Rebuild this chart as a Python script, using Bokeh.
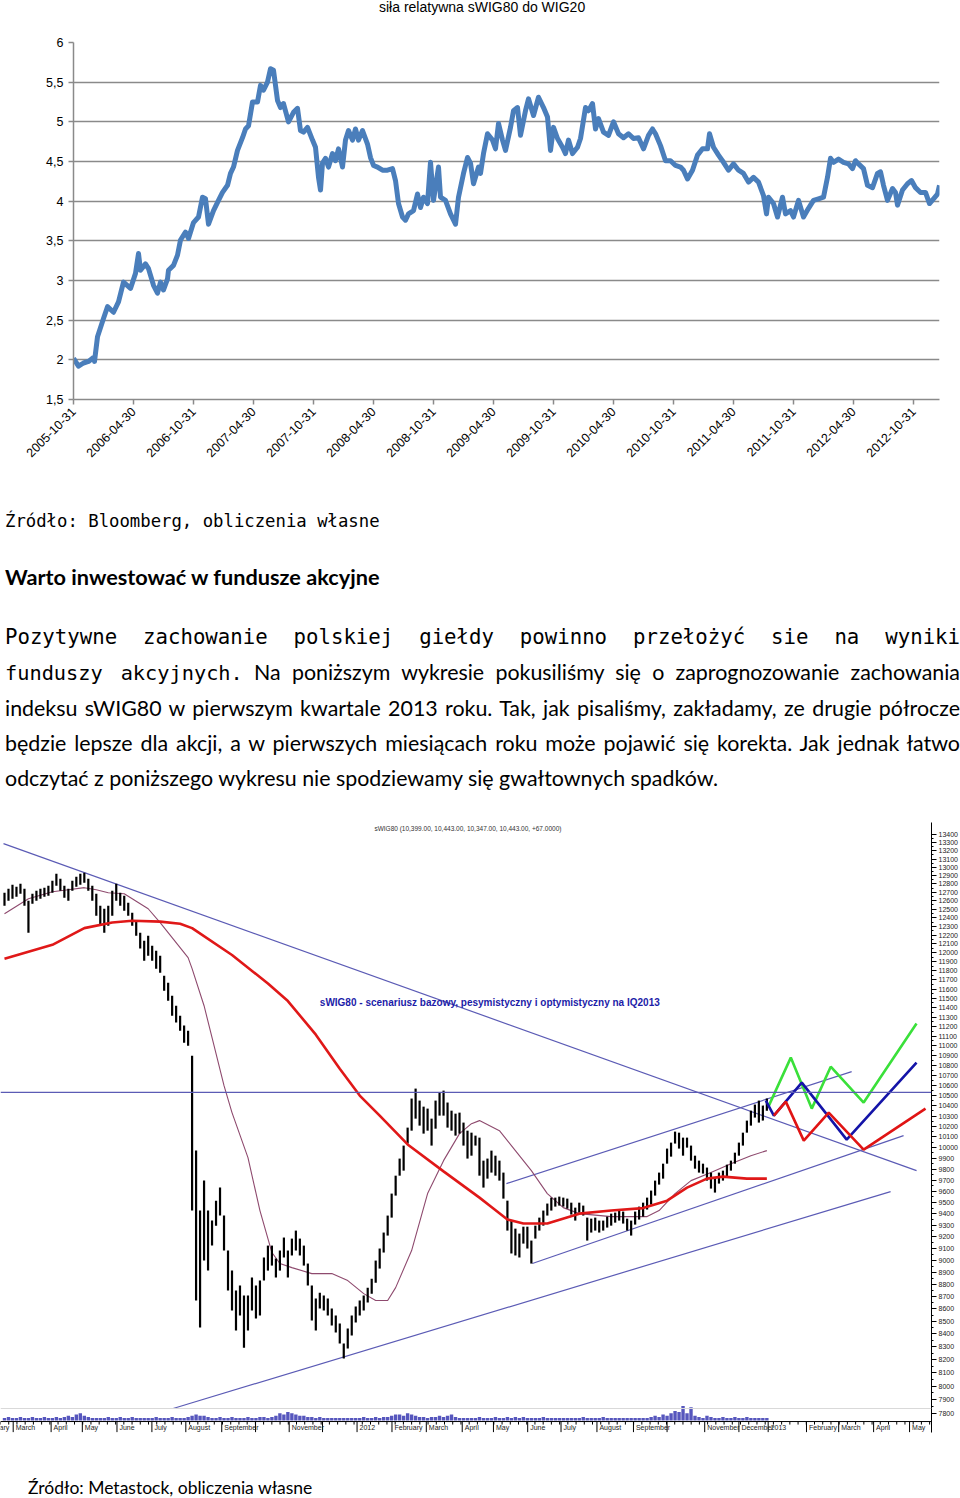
import math
from bokeh.plotting import figure
from bokeh.layouts import column
from bokeh.models import (Range1d, FixedTicker, Div, Label, LabelSet, ColumnDataSource,
                          Span, PrintfTickFormatter, LinearScale)
from bokeh.core.properties import value
from bokeh.embed import file_html
from bokeh.resources import INLINE

# ---------------- chart 1 data: relative strength sWIG80 / WIG20 ----------------
# t = months since 2005-10-31
rs_t = [0.0,0.5,1.0,1.5,2.0,2.1,2.4,3.0,3.4,4.0,4.5,5.0,5.7,6.2,6.5,6.7,7.2,7.5,8.0,8.4,8.7,9.0,9.4,9.5,
        10.0,10.4,10.7,11.2,11.5,12.0,12.5,12.9,13.2,13.5,14.0,14.5,14.9,15.4,15.7,16.0,16.4,16.9,17.2,17.5,
        17.9,18.4,18.7,19.0,19.4,19.7,20.0,20.4,20.7,21.0,21.5,22.0,22.4,22.7,23.0,23.4,23.9,24.2,24.5,24.7,
        24.9,25.2,25.5,25.9,26.2,26.5,26.9,27.2,27.5,27.9,28.2,28.5,28.9,29.4,29.7,30.0,30.4,30.9,31.4,31.9,
        32.2,32.5,32.9,33.2,33.5,34.0,34.4,34.7,35.0,35.4,35.7,36.0,36.5,36.7,37.2,37.7,38.2,38.5,39.0,39.4,
        39.7,40.0,40.5,40.7,41.0,41.4,41.9,42.2,42.5,42.9,43.2,43.7,44.0,44.4,44.7,45.2,45.5,46.0,46.5,47.0,
        47.4,47.7,48.0,48.4,48.9,49.2,49.5,49.9,50.4,50.7,51.2,51.5,51.9,52.2,52.5,53.0,53.5,54.0,54.5,55.0,
        55.5,56.0,56.5,57.0,57.5,57.9,58.2,58.7,59.2,59.7,60.2,60.7,61.0,61.4,61.9,62.4,62.9,63.4,63.6,64.0,
        64.5,65.0,65.5,66.0,66.5,67.0,67.5,68.0,68.5,69.0,69.3,69.5,70.0,70.4,70.9,71.2,71.7,72.0,72.5,73.0,
        73.5,74.0,74.5,75.0,75.4,75.7,76.0,76.5,77.0,77.5,77.9,78.2,78.5,79.0,79.4,79.9,80.4,80.7,81.0,81.4,
        81.9,82.2,82.4,82.9,83.4,83.8,84.2,84.7,85.2,85.6,86.0,86.4,86.6]
rs_v = [2.02,1.92,1.96,1.98,2.03,1.98,2.29,2.52,2.67,2.60,2.73,2.98,2.90,3.09,3.34,3.13,3.21,3.15,2.94,2.84,2.98,2.88,3.02,3.13,
        3.19,3.32,3.51,3.61,3.53,3.73,3.80,4.05,4.03,3.71,3.88,4.01,4.11,4.20,4.35,4.43,4.64,4.80,4.91,4.95,
        5.25,5.25,5.46,5.40,5.50,5.67,5.65,5.27,5.18,5.23,5.00,5.12,5.17,4.89,4.87,4.93,4.77,4.68,4.30,4.14,
        4.48,4.54,4.43,4.60,4.51,4.66,4.43,4.77,4.89,4.77,4.91,4.77,4.89,4.72,4.55,4.45,4.43,4.39,4.39,4.41,
        4.26,3.97,3.80,3.76,3.84,3.88,4.09,3.92,4.05,3.97,4.49,4.01,4.43,4.05,4.01,3.84,3.71,4.05,4.35,4.55,
        4.48,4.22,4.43,4.35,4.60,4.85,4.77,4.66,4.98,4.77,4.64,4.93,5.14,5.18,4.83,5.14,5.29,5.08,5.31,5.18,
        5.06,4.64,4.93,4.79,4.68,4.60,4.77,4.60,4.68,4.79,5.18,5.14,5.23,4.91,5.04,4.87,4.83,5.00,4.85,4.80,
        4.85,4.79,4.80,4.66,4.83,4.91,4.85,4.70,4.51,4.51,4.45,4.43,4.39,4.28,4.39,4.58,4.66,4.66,4.85,4.68,
        4.58,4.49,4.39,4.47,4.39,4.35,4.24,4.30,4.24,4.07,3.84,4.05,3.97,3.80,4.05,3.84,3.88,3.80,4.01,3.80,
        3.91,4.01,4.03,4.05,4.30,4.54,4.49,4.53,4.49,4.47,4.41,4.51,4.47,4.41,4.20,4.17,4.35,4.37,4.20,4.01,
        4.16,4.11,3.95,4.14,4.22,4.26,4.17,4.11,4.11,3.97,4.03,4.09,4.20]
rs_tick_t = [0, 6, 12, 18, 24, 30, 36, 42, 48, 54, 60, 66, 72, 78, 84]
rs_tick_labels = ["2005-10-31", "2006-04-30", "2006-10-31", "2007-04-30", "2007-10-31",
                  "2008-04-30", "2008-10-31", "2009-04-30", "2009-10-31", "2010-04-30",
                  "2010-10-31", "2011-04-30", "2011-10-31", "2012-04-30", "2012-10-31"]
y1_ticks = [1.5, 2, 2.5, 3, 3.5, 4, 4.5, 5, 5.5, 6]
y1_labels = ["1,5", "2", "2,5", "3", "3,5", "4", "4,5", "5", "5,5", "6"]
title1 = "siła relatywna sWIG80 do WIG20"

# ---------------- chart 2 data: sWIG80 bars (index = bar number) ----------------
bar_hi = [12694,12742,12789,12765,12801,12742,12599,12682,12718,12742,
          12754,12777,12837,12921,12861,12777,12742,12837,12885,12921,
          12934,12861,12777,12682,12540,12505,12540,12718,12801,12694,
          12658,12576,12459,12366,12228,12137,12194,12080,12024,11968,
          11746,11669,11528,11420,11314,11210,11157,10899,9972,9428,
          9696,9428,9340,9516,9633,9384,9082,8913,8748,8789,
          8707,8707,8855,8789,8830,9023,9124,9124,9014,9082,
          9193,9082,9184,9253,9184,9124,8972,8789,8683,8731,
          8707,8683,8602,8546,8482,8325,8443,8546,8618,8667,
          8707,8772,8846,8997,9099,9236,9384,9579,9741,9898,
          10019,10189,10470,10568,10450,10391,10372,10275,10450,10528,
          10548,10431,10352,10323,10333,10237,10160,10141,10113,10094,
          9879,9898,9972,9925,9879,9769,9516,9340,9270,9227,
          9287,9287,9167,9296,9366,9428,9490,9543,9543,9552,
          9543,9534,9498,9454,9498,9472,9366,9357,9366,9340,
          9340,9375,9401,9410,9428,9419,9357,9340,9419,9463,
          9498,9543,9606,9696,9769,9851,9991,10047,10151,10141,
          10094,10094,10019,9925,9879,9851,9815,9769,9723,9769,
          9787,9842,9879,9953,10047,10141,10256,10352,10411,10450,
          10401,10470]
bar_lo = [12540,12599,12623,12646,12682,12540,12228,12564,12599,12623,
          12646,12658,12694,12777,12718,12635,12599,12718,12765,12789,
          12813,12718,12599,12424,12308,12228,12308,12424,12599,12540,
          12482,12424,12308,12194,12047,11912,11968,11912,11823,11779,
          11582,11474,11314,11241,11157,11032,11001,9428,8667,8450,
          8997,8913,9124,9296,9384,9082,8748,8586,8427,8546,
          8293,8427,8586,8522,8546,8830,8913,8955,8855,8913,
          9023,8855,9040,9082,9040,8955,8789,8506,8427,8602,
          8586,8546,8466,8411,8325,8209,8286,8387,8490,8546,
          8586,8651,8723,8813,8930,9065,9210,9366,9561,9741,
          9787,10038,10160,10275,10208,10132,10160,10019,10179,10304,
          10304,10189,10160,10113,10132,10019,9898,9925,10019,9741,
          9633,9714,9769,9741,9696,9534,9253,9057,9040,9023,
          9141,9099,8972,9184,9253,9296,9384,9428,9463,9472,
          9463,9445,9393,9340,9410,9384,9167,9236,9253,9236,
          9253,9279,9296,9322,9340,9314,9253,9210,9305,9349,
          9375,9437,9481,9561,9660,9714,9851,9916,10038,9991,
          9925,10000,9879,9805,9769,9760,9696,9624,9588,9669,
          9696,9732,9787,9851,9925,10019,10141,10208,10285,10237,
          10256,10352]
volume = [2,3,2,2,3,2,2,3,2,2,3,2,
          2,3,2,3,4,3,5,6,4,3,2,2,
          2,2,3,2,2,3,2,2,3,2,2,2,
          2,2,3,2,2,2,3,2,2,2,3,4,
          5,4,4,3,2,2,3,2,2,3,2,2,
          2,3,2,2,3,3,2,3,4,6,5,7,
          6,5,4,4,3,3,2,3,2,2,2,2,
          2,2,2,2,2,2,3,2,2,3,2,3,
          3,4,5,5,4,6,5,4,3,3,2,3,
          3,4,3,4,5,3,2,2,2,2,2,3,
          2,2,2,3,2,2,3,2,3,2,3,2,
          2,2,2,3,2,2,2,2,2,2,2,2,
          2,3,2,2,2,2,3,2,2,2,2,2,
          2,2,2,2,2,2,3,4,3,5,4,6,
          8,7,12,6,11,4,3,2,4,3,2,2,
          3,2,2,3,2,2,3,2,2,2,2,2]

ma_long_idx = [0,12,20,27,32,39,44,47,57,66,71,78,84,89,94,101,110,119,122,126,130,136,144,152,160,166,171,176,180,186,191]
ma_long = [11934,12090,12280,12345,12366,12355,12331,12280,11975,11660,11470,11115,10767,10499,10304,10030,
           9780,9543,9460,9350,9314,9314,9401,9428,9450,9516,9633,9714,9732,9714,9714]
ma_short_idx = [0,6,12,16,20,23,26,30,32,36,39,42,46,47,50,52,55,57,61,64,67,69,72,77,82,86,90,93,96,98,
                102,106,110,114,117,119,124,128,132,136,140,144,152,161,164,168,172,177,182,187,191]
ma_short = [12447,12623,12706,12730,12754,12730,12694,12682,12623,12505,12343,12171,11946,11823,11420,11084,
            10597,10333,9907,9428,9065,8972,8938,8888,8888,8830,8723,8667,8667,8772,9082,9579,9879,10132,
            10227,10256,10160,9972,9787,9579,9454,9401,9375,9375,9428,9579,9696,9769,9851,9925,9972]

# trend lines (start bar, start price, end bar, end price)
tl_x0 = [-0.25, 42.25, 125.75, 132.25]
tl_y0 = [13290, 7834, 9669, 8972]
tl_x1 = [228.5, 222.0, 212.25, 225.25]
tl_y1 = [9787, 9597, 10737, 10113]
level_price = 10530

# scenarios for IQ2013
opt_idx = [191.5, 197, 202.25, 207, 215.25, 228.5]
opt_val = [10401, 10879, 10372, 10787, 10431, 11231]
base_idx = [190.75, 192.75, 199.75, 211, 228.5]
base_val = [10450, 10304, 10627, 10075, 10828]
pes_idx = [192.75, 195.75, 200.25, 206.5, 215.25, 230.75]
pes_val = [10304, 10440, 10066, 10333, 9981, 10372]

month_idx = [-6.45, 2.18, 11.68, 19.5, 28.18, 36.93, 45.43, 54.43, 62.9, 71.33, 79.68, 88.33, 97.08,
             105.68, 114.68, 122.5, 131.08, 139.43, 148.43, 157.58, 166.0, 175.43, 184.0, 191.33,
             200.93, 209.0, 217.75, 226.75]
month_lab = ["February", "March", "April", "May", "June", "July", "August", "September", "", "November",
             "", "2012", "February", "March", "April", "May", "June", "July", "August", "September", "",
             "November", "December", "2013", "February", "March", "April", "May"]
price_ticks = list(range(7800, 13500, 100))
price_minor = list(range(7850, 13450, 100))
week_idx = [-1 + 2.06 * k for k in range(114)]

# price levels of the time-axis strip at the foot of the price pane
axis_price = 7739
tick_end_price = 7662
week_tick_price = 7717
month_label_price = 7696
pane_sep_price = 7834

quote_text = "sWIG80 (10,399.00, 10,443.00, 10,347.00, 10,443.00, +67.0000)"
title2 = "sWIG80 - scenariusz bazowy, pesymistyczny i optymistyczny na IQ2013"

src1 = "Źródło: Bloomberg, obliczenia własne"
heading = "Warto inwestować w fundusze akcyjne"
para_l1 = "Pozytywne zachowanie polskiej giełdy powinno przełożyć sie na wyniki"
para_l2a = "funduszy akcyjnych."
para_l2b = "Na poniższym wykresie pokusiliśmy się o zaprognozowanie zachowania"
para_l3 = "indeksu sWIG80 w pierwszym kwartale 2013 roku. Tak, jak pisaliśmy, zakładamy, ze drugie półrocze"
para_l4 = "będzie lepsze dla akcji, a w pierwszych miesiącach roku może pojawić się korekta. Jak jednak łatwo"
para_l5 = "odczytać z poniższego wykresu nie spodziewamy się gwałtownych spadków."
src2 = "Źródło: Metastock, obliczenia własne"


def no_frame_align(p):
    try:
        p.frame_align = False
    except Exception as e:  # older bokeh
        print("frame_align not available:", e)


MONO = "'DejaVu Sans Mono', monospace"
SANS = "Lato, sans-serif"
ARIAL = "'Liberation Sans', Arial, sans-serif"


def line_div(top, content, font, size, weight="normal", justify=False, left=5, lh=30):
    j = "text-align:justify;text-align-last:justify;width:955px;" if justify else ""
    return (f'<div style="position:absolute;left:{left}px;top:{top}px;line-height:{lh}px;height:{lh}px;'
            f'white-space:nowrap;{j}font-family:{font};font-size:{size}px;font-weight:{weight};color:#000;">'
            f'{content}</div>')


# ---------------- title of figure 1 ----------------
title_html = ('<div style="position:relative;width:960px;height:15px;background:white;">'
              + line_div(0, title1, ARIAL, 14, left=379, lh=15) + '</div>')
title_div = Div(text=title_html, width=960, height=15, margin=0)

# ---------------- figure 1 ----------------
GRAY = "#8a8a8a"
p1 = figure(width=960, height=455, x_range=Range1d(0, 86.6), y_range=Range1d(1.5, 6),
            output_backend="svg", toolbar_location=None,
            min_border_left=73, min_border_right=21, min_border_top=27, min_border_bottom=71)
no_frame_align(p1)
p1.outline_line_color = None
p1.xgrid.visible = False
p1.ygrid.ticker = FixedTicker(ticks=y1_ticks)
p1.ygrid.grid_line_color = GRAY
p1.ygrid.grid_line_width = 1.5
for ax in (p1.xaxis[0], p1.yaxis[0]):
    ax.axis_line_color = GRAY
    ax.axis_line_width = 1.5
    ax.major_tick_line_color = GRAY
    ax.major_tick_line_width = 1.5
    ax.major_tick_in = 0
    ax.major_tick_out = 5
    ax.minor_tick_line_color = None
    ax.major_label_text_font = "Liberation Sans"
    ax.major_label_text_font_size = "12.5px"
    ax.major_label_text_color = "black"
p1.xaxis.ticker = FixedTicker(ticks=rs_tick_t)
p1.xaxis.major_label_overrides = {t: l for t, l in zip(rs_tick_t, rs_tick_labels)}
p1.xaxis.major_label_orientation = math.pi / 4
p1.yaxis.ticker = FixedTicker(ticks=y1_ticks)
p1.yaxis.major_label_overrides = {t: l for t, l in zip(y1_ticks, y1_labels)}
p1.line(rs_t, rs_v, line_width=5, line_color="#4a7ebb", line_join="round")

# ---------------- text block ----------------
html = '<div style="position:relative;width:960px;height:345px;background:white;">'
html += line_div(36, src1, MONO, 17.3)
html += line_div(92, heading, SANS, 21.7, weight="bold")
html += line_div(152, para_l1, MONO, 20.7, justify=True)
html += line_div(187, f'<span style="font-family:{MONO};font-size:20.3px">{para_l2a}</span> {para_l2b}',
                 SANS, 21.4, justify=True)
html += line_div(223, para_l3, SANS, 21.4, justify=True)
html += line_div(258, para_l4, SANS, 21.4, justify=True)
html += line_div(293, para_l5, SANS, 21.4)
html += '</div>'
text_div = Div(text=html, width=960, height=345, margin=0)

# ---------------- figure 2 ----------------
bar_idx = list(range(len(bar_hi)))
p2 = figure(width=960, height=625, x_range=Range1d(-1, 232.25), y_range=Range1d(7660, 13556),
            y_axis_type="log", y_axis_location="right", x_axis_location=None,
            output_backend="svg", toolbar_location=None,
            min_border_left=0, min_border_right=27, min_border_top=7, min_border_bottom=8)
no_frame_align(p2)
p2.outline_line_color = None
p2.grid.visible = False
p2.extra_y_ranges = {"vol": Range1d(-10, 498.3)}
p2.extra_y_scales = {"vol": LinearScale()}

ya = p2.yaxis[0]
ya.ticker = FixedTicker(ticks=price_ticks, minor_ticks=price_minor)
ya.formatter = PrintfTickFormatter(format="%d")
ya.major_label_text_font = "Liberation Sans"
ya.major_label_text_font_size = "7px"
ya.major_label_text_color = "#222222"
ya.major_label_standoff = 2
ya.major_tick_in = 0
ya.major_tick_out = 5
ya.minor_tick_in = 0
ya.minor_tick_out = 2
ya.axis_line_color = "black"

# time axis strip (drawn inside the frame so the month names stay visible)
p2.add_layout(Span(location=axis_price, dimension="width", line_color="black", line_width=1))
p2.segment(x0=month_idx, y0=[axis_price] * len(month_idx), x1=month_idx,
           y1=[tick_end_price] * len(month_idx), line_color="black", line_width=1)
p2.segment(x0=week_idx, y0=[axis_price] * len(week_idx), x1=week_idx,
           y1=[week_tick_price] * len(week_idx), line_color="black", line_width=1)
month_src = ColumnDataSource(dict(x=month_idx, y=[month_label_price] * len(month_idx), text=month_lab))
p2.add_layout(LabelSet(x="x", y="y", text="text", source=month_src, x_offset=2.5,
                       text_align="left", text_baseline="middle", text_font=value("Liberation Sans"),
                       text_font_size="7px", text_color="#222222"))

p2.add_layout(Span(location=pane_sep_price, dimension="width", line_color="#d9d9d9", line_width=1))
p2.vbar(x=bar_idx, top=volume, bottom=0, width=0.85, y_range_name="vol",
        fill_color="#5656bd", line_color=None)
p2.add_layout(Span(location=level_price, dimension="width", line_color="#5b5bb5", line_width=1.2))
p2.segment(x0=tl_x0, y0=tl_y0, x1=tl_x1, y1=tl_y1, line_color="#5b5bb5", line_width=1.2)
p2.line(ma_short_idx, ma_short, line_color="#8e4a6e", line_width=1.1)
p2.segment(x0=bar_idx, y0=bar_lo, x1=bar_idx, y1=bar_hi, line_color="black", line_width=2.2)
p2.line(ma_long_idx, ma_long, line_color="#e01818", line_width=2.6)
p2.line(opt_idx, opt_val, line_color="#3ae03a", line_width=2.6)
p2.line(base_idx, base_val, line_color="#1414a8", line_width=2.6)
p2.line(pes_idx, pes_val, line_color="#e01414", line_width=2.6)

p2.add_layout(Label(x=116.1, y=13478, text=quote_text, text_align="center", text_baseline="middle",
                    text_font="Liberation Sans", text_font_size="6.5px", text_color="#333333"))
p2.add_layout(Label(x=79, y=11453, text=title2, text_align="left", text_baseline="middle",
                    text_font="Liberation Sans", text_font_size="10px", text_font_style="bold",
                    text_color="#1c1ca8"))

src_html = ('<div style="position:relative;width:960px;height:58px;background:white;">'
            + line_div(33, src2, SANS, 17.5, left=28) + '</div>')
src_div = Div(text=src_html, width=960, height=58, margin=0)

page = column(title_div, p1, text_div, p2, src_div, spacing=0)
open("out.html", "w", encoding="utf-8").write(file_html(page, INLINE))
